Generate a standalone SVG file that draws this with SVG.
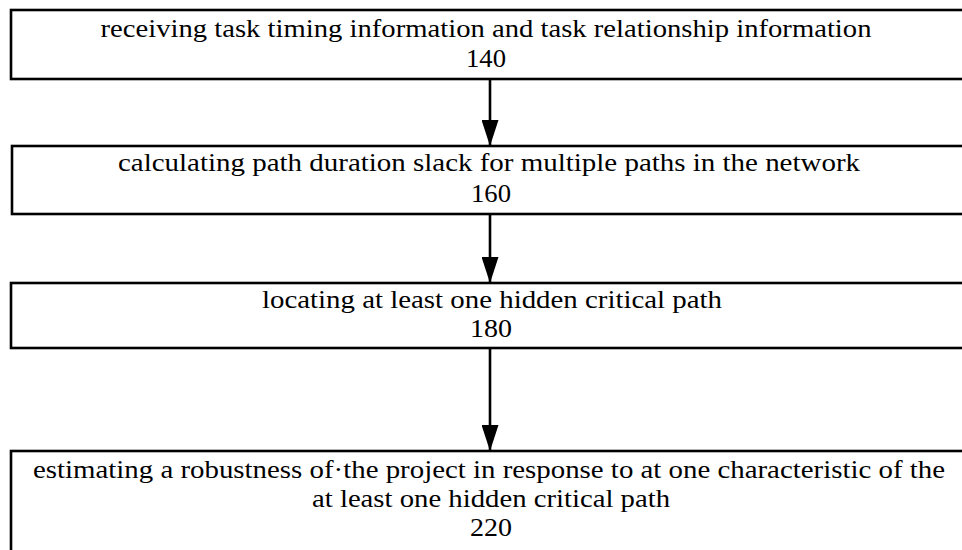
<svg xmlns="http://www.w3.org/2000/svg" width="962" height="550" viewBox="0 0 962 550">
<defs>
<marker id="ah" markerUnits="userSpaceOnUse" markerWidth="26" markerHeight="17" viewBox="0 0 26 17" refX="26" refY="8.5" orient="auto">
<path d="M0,0 L26,8.5 L0,17 Z" fill="#000"/>
</marker>
<style>
.box{fill:#fff;stroke:#000;stroke-width:2.6}
.t{font-family:"Liberation Serif","Times New Roman",serif;font-size:25px;fill:#000;text-anchor:middle}
.n{font-family:"Liberation Serif","Times New Roman",serif;font-size:25px;fill:#000;text-anchor:middle}
.c{stroke:#000;stroke-width:2.6;fill:none;marker-end:url(#ah)}
</style>
</defs>
<rect width="962" height="550" fill="#fff"/>
<g id="connectors">
<line class="c" x1="490" y1="79" x2="490" y2="146"/>
<line class="c" x1="490" y1="214" x2="490" y2="283"/>
<line class="c" x1="490" y1="348" x2="490" y2="451"/>
</g>
<g id="n140">
<rect class="box" x="11" y="10" width="960" height="69"/>
<text class="t" x="486" y="37" textLength="771" lengthAdjust="spacingAndGlyphs">receiving task timing information and task relationship information</text>
<text class="n" x="486" y="67" textLength="40" lengthAdjust="spacingAndGlyphs">140</text>
</g>
<g id="n160">
<rect class="box" x="12" y="146" width="960" height="68"/>
<text class="t" x="489" y="171" textLength="742" lengthAdjust="spacingAndGlyphs">calculating path duration slack for multiple paths in the network</text>
<text class="n" x="491" y="202" textLength="40" lengthAdjust="spacingAndGlyphs">160</text>
</g>
<g id="n180">
<rect class="box" x="11" y="283" width="960" height="65"/>
<text class="t" x="492" y="308" textLength="460" lengthAdjust="spacingAndGlyphs">locating at least one hidden critical path</text>
<text class="n" x="491" y="337" textLength="42" lengthAdjust="spacingAndGlyphs">180</text>
</g>
<g id="n220">
<rect class="box" x="11" y="451" width="960" height="120"/>
<text class="t" x="489" y="478" textLength="912" lengthAdjust="spacingAndGlyphs">estimating a robustness of·the project in response to at one characteristic of the</text>
<text class="t" x="491" y="507" textLength="358" lengthAdjust="spacingAndGlyphs">at least one hidden critical path</text>
<text class="n" x="491" y="536" textLength="42" lengthAdjust="spacingAndGlyphs">220</text>
</g>
</svg>
